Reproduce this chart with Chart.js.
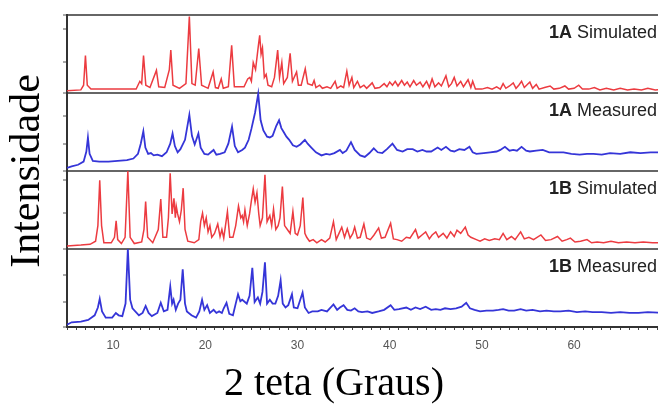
<!DOCTYPE html>
<html>
<head>
<meta charset="utf-8">
<script src="https://cdn.jsdelivr.net/npm/chart.js@4.4.1/dist/chart.umd.min.js"></script>
<style>
  body { margin: 0; background: #fff; overflow: hidden; }
  #wrap { width: 658px; height: 406px; }
</style>
</head>
<body>
<div id="wrap"><canvas id="xrd" width="658" height="406"></canvas></div>
<script>
// [2theta, relative intensity within its panel]
const simA = [
  [5.0,.03],[6.5,.04],[6.8,.1],[7.0,.48],[7.2,.1],[7.6,.05],[12.5,.05],[12.9,.15],[13.1,.12],[13.3,.48],[13.55,.1],
  [14.0,.07],[14.7,.29],[14.95,.08],[15.6,.07],[16.1,.3],[16.26,.55],[16.5,.1],[17.2,.06],[17.9,.12],[18.27,.98],
  [18.55,.12],[18.9,.1],[19.29,.57],[19.6,.1],[20.3,.06],[20.85,.27],[21.1,.07],[21.4,.06],[21.73,.18],[21.95,.06],
  [22.5,.08],[22.86,.61],[23.15,.08],[24.2,.08],[24.6,.18],[24.83,.2],[25.0,.15],[25.2,.39],[25.45,.3],[25.75,.6],
  [25.9,.74],[26.05,.5],[26.2,.58],[26.4,.2],[26.6,.24],[26.8,.1],[27.2,.08],[27.5,.2],[27.85,.55],[28.05,.2],
  [28.3,.39],[28.5,.12],[28.9,.2],[29.2,.51],[29.45,.15],[29.9,.27],[30.1,.1],[30.4,.1],[30.84,.31],[31.1,.12],
  [31.6,.1],[31.8,.16],[32.0,.07],[32.4,.1],[32.7,.06],[33.2,.08],[33.6,.06],[34.08,.15],[34.3,.06],[34.7,.09],
  [35.0,.07],[35.35,.28],[35.6,.1],[35.9,.2],[36.1,.07],[36.5,.15],[36.8,.07],[37.2,.1],[37.5,.06],[38.1,.13],
  [38.4,.06],[38.9,.07],[39.4,.12],[39.7,.08],[40.0,.14],[40.3,.1],[40.6,.15],[40.9,.09],[41.3,.16],[41.6,.1],
  [41.9,.14],[42.2,.08],[42.6,.16],[42.9,.1],[43.3,.14],[43.6,.08],[44.0,.15],[44.3,.07],[44.6,.18],[44.9,.08],
  [45.3,.13],[45.6,.09],[46.1,.22],[46.4,.08],[46.7,.12],[47.0,.2],[47.3,.09],[47.7,.15],[48.0,.08],[48.5,.17],
  [48.8,.07],[49.0,.15],[49.3,.05],[50.0,.05],[50.6,.07],[51.1,.05],[51.6,.08],[52.0,.05],[52.3,.12],[52.6,.06],
  [53.0,.09],[53.4,.13],[53.7,.06],[54.0,.1],[54.3,.15],[54.6,.07],[55.2,.14],[55.5,.06],[55.9,.11],[56.2,.05],
  [56.8,.07],[57.4,.09],[57.8,.05],[58.4,.06],[59.0,.09],[59.4,.05],[60.0,.06],[60.5,.1],[60.9,.05],[61.6,.05],
  [62.2,.07],[62.8,.04],[63.5,.06],[64.3,.04],[65.0,.06],[65.8,.04],[66.5,.05],[67.3,.04],[68.0,.06],[68.8,.04],[70,.05]
];
const measA = [
  [5.0,.04],[5.5,.06],[6.2,.08],[6.8,.12],[7.1,.25],[7.27,.43],[7.45,.22],[7.8,.13],[8.5,.12],[9.5,.12],[10.5,.13],
  [11.5,.14],[12.2,.16],[12.7,.22],[13.0,.35],[13.28,.51],[13.5,.3],[13.8,.22],[14.1,.23],[14.4,.2],[14.8,.21],
  [15.3,.19],[15.8,.24],[16.2,.35],[16.45,.48],[16.7,.32],[17.0,.24],[17.3,.28],[17.8,.4],[18.27,.72],[18.55,.45],
  [18.85,.34],[19.25,.48],[19.5,.3],[19.9,.22],[20.3,.21],[20.6,.24],[20.9,.27],[21.2,.21],[21.6,.22],[22.1,.24],
  [22.5,.35],[22.9,.57],[23.2,.32],[23.55,.24],[24.0,.27],[24.3,.3],[24.7,.4],[25.0,.54],[25.4,.75],[25.74,.99],
  [26.0,.65],[26.3,.52],[26.7,.44],[27.0,.43],[27.3,.45],[27.7,.58],[28.0,.65],[28.25,.55],[28.5,.5],[28.8,.44],
  [29.1,.4],[29.5,.33],[29.9,.31],[30.3,.34],[30.8,.4],[31.1,.35],[31.5,.3],[32.0,.24],[32.6,.2],[33.1,.22],
  [33.5,.21],[34.0,.23],[34.6,.27],[34.9,.23],[35.3,.26],[35.8,.37],[36.2,.27],[36.8,.2],[37.3,.18],[37.8,.23],
  [38.27,.29],[38.7,.24],[39.2,.23],[39.7,.28],[40.3,.35],[40.8,.27],[41.4,.25],[41.9,.28],[42.5,.28],[43.0,.25],
  [43.55,.27],[44.0,.25],[44.5,.25],[45.2,.3],[45.6,.27],[46.1,.31],[46.6,.26],[47.0,.25],[47.55,.28],[48.1,.27],
  [48.65,.31],[49.0,.24],[49.4,.22],[50.2,.23],[50.9,.24],[51.6,.25],[52.0,.27],[52.5,.31],[53.0,.26],[53.4,.27],
  [53.8,.26],[54.3,.31],[54.8,.26],[55.2,.25],[55.9,.26],[56.6,.27],[57.3,.24],[58.0,.24],[58.85,.24],[59.7,.22],
  [60.6,.21],[61.4,.22],[62.1,.22],[63.0,.21],[63.9,.23],[65.0,.22],[66.1,.24],[67.2,.23],[68.3,.24],[70,.24]
];
const simB = [
  [5.0,.04],[6.5,.05],[7.5,.06],[8.1,.1],[8.35,.3],[8.55,.88],[8.75,.3],[9.0,.08],[9.8,.08],[10.15,.15],[10.33,.36],
  [10.5,.12],[10.9,.07],[11.3,.15],[11.6,1.0],[11.85,.15],[12.3,.07],[13.1,.09],[13.35,.25],[13.53,.61],[13.75,.15],
  [14.3,.08],[14.9,.25],[15.17,.64],[15.4,.15],[15.8,.15],[16.0,.4],[16.19,.97],[16.4,.45],[16.6,.65],[16.75,.4],
  [16.85,.55],[17.0,.45],[17.2,.35],[17.4,.5],[17.6,.78],[17.8,.25],[18.1,.1],[18.8,.08],[19.3,.12],[19.5,.35],
  [19.7,.46],[19.9,.3],[20.1,.4],[20.3,.22],[20.5,.3],[20.7,.15],[21.0,.2],[21.35,.32],[21.6,.16],[21.8,.25],
  [22.0,.14],[22.4,.48],[22.65,.15],[23.0,.15],[23.3,.3],[23.6,.55],[23.85,.4],[24.0,.43],[24.15,.35],[24.3,.5],
  [24.55,.3],[24.8,.45],[25.0,.62],[25.2,.77],[25.4,.6],[25.6,.72],[25.8,.45],[25.95,.3],[26.2,.4],[26.47,.95],
  [26.7,.35],[27.0,.43],[27.2,.3],[27.4,.51],[27.65,.25],[27.9,.3],[28.1,.4],[28.36,.8],[28.6,.3],[28.9,.25],
  [29.2,.2],[29.5,.48],[29.75,.2],[30.0,.18],[30.3,.3],[30.58,.66],[30.8,.2],[31.0,.15],[31.3,.1],[31.7,.12],
  [32.1,.08],[32.6,.12],[33.0,.09],[33.5,.14],[33.9,.35],[34.2,.12],[34.5,.2],[34.8,.28],[35.1,.15],[35.4,.26],
  [35.7,.14],[36.0,.2],[36.2,.28],[36.5,.14],[36.8,.15],[37.2,.32],[37.5,.14],[37.9,.12],[38.3,.18],[38.8,.27],
  [39.1,.14],[39.5,.15],[40.1,.33],[40.4,.13],[40.8,.12],[41.3,.1],[41.8,.15],[42.2,.14],[42.8,.25],[43.1,.14],
  [43.5,.18],[43.9,.22],[44.3,.13],[44.6,.18],[45.0,.22],[45.3,.15],[45.8,.2],[46.2,.14],[46.6,.22],[47.0,.16],
  [47.3,.24],[47.7,.2],[48.2,.28],[48.5,.18],[48.8,.15],[49.4,.12],[49.8,.1],[50.3,.13],[50.8,.11],[51.4,.13],
  [51.9,.12],[52.3,.2],[52.7,.12],[53.2,.16],[53.6,.12],[54.2,.22],[54.6,.13],[55.1,.15],[55.6,.12],[56.4,.18],
  [56.9,.11],[57.5,.12],[58.2,.16],[58.7,.1],[59.2,.12],[59.6,.14],[60.1,.09],[60.7,.1],[61.4,.12],[61.9,.08],
  [62.5,.09],[63.2,.08],[64.0,.1],[64.8,.08],[65.7,.09],[66.6,.08],[67.5,.09],[68.5,.08],[70,.08]
];
const measB = [
  [5.0,.03],[5.5,.06],[6.5,.07],[7.3,.09],[8.0,.15],[8.35,.25],[8.55,.36],[8.8,.2],[9.2,.12],[9.9,.12],[10.3,.18],
  [10.6,.15],[11.0,.14],[11.35,.3],[11.6,1.0],[11.85,.35],[12.1,.24],[12.8,.15],[13.2,.18],[13.53,.27],[13.85,.18],
  [14.2,.14],[14.8,.18],[15.17,.31],[15.5,.2],[15.9,.22],[16.2,.52],[16.4,.3],[16.56,.35],[16.8,.22],[17.05,.3],
  [17.3,.35],[17.55,.74],[17.8,.3],[18.0,.2],[18.5,.15],[19.0,.12],[19.35,.2],[19.65,.35],[19.9,.22],[20.2,.28],
  [20.5,.18],[20.9,.22],[21.2,.18],[21.5,.2],[21.8,.18],[22.0,.24],[22.3,.31],[22.6,.17],[23.0,.15],[23.3,.3],
  [23.55,.42],[23.8,.33],[24.0,.35],[24.2,.33],[24.5,.3],[24.8,.4],[25.1,.76],[25.35,.32],[25.7,.38],[25.95,.3],
  [26.2,.45],[26.47,.83],[26.7,.3],[27.0,.35],[27.3,.3],[27.6,.3],[27.9,.4],[28.17,.6],[28.4,.3],[28.7,.25],
  [29.0,.28],[29.4,.42],[29.6,.25],[30.0,.24],[30.3,.35],[30.55,.44],[30.8,.25],[31.2,.18],[31.6,.2],[32.2,.2],
  [32.6,.22],[33.2,.2],[33.9,.29],[34.3,.22],[34.6,.25],[35.0,.28],[35.4,.22],[35.8,.21],[36.2,.24],[36.6,.2],
  [37.0,.19],[37.6,.2],[38.1,.18],[38.8,.2],[39.4,.22],[40.1,.28],[40.5,.22],[41.0,.23],[41.8,.25],[42.3,.22],
  [42.8,.25],[43.3,.23],[43.9,.26],[44.5,.22],[45.0,.23],[45.5,.22],[46.0,.24],[46.6,.23],[47.2,.24],[47.8,.26],
  [48.3,.31],[48.7,.24],[49.2,.22],[49.8,.2],[50.5,.21],[51.2,.21],[51.8,.22],[52.3,.23],[52.9,.21],[53.5,.21],
  [54.2,.23],[54.8,.21],[55.5,.22],[56.3,.2],[57.0,.21],[57.8,.2],[58.5,.2],[59.4,.21],[60.3,.19],[61.2,.2],
  [62.0,.19],[63.0,.19],[64.0,.18],[65.0,.19],[66.0,.18],[67.0,.18],[68.0,.19],[70,.18]
];

const panelNames = [["1A", " Simulated"], ["1A", " Measured"], ["1B", " Simulated"], ["1B", " Measured"]];
const panelData = [simA, measA, simB, measB];
const panelColors = ["#ec3b40", "#3535d8", "#ec3b40", "#3535d8"];
const yTicks = [0, .32, .67, 1, 1.46, 1.88, 2, 2.35, 2.71, 3, 3.4, 3.82, 4];
const xLabels = [10, 20, 30, 40, 50, 60];

const datasets = panelData.map((pts, i) => {
  const offset = 3 - i;
  return {
    label: panelNames[i].join(""),
    data: pts.map(([x, v]) => ({ x: x, y: v + offset })),
    borderColor: panelColors[i],
    borderWidth: i % 2 ? 1.8 : 1.5,
    pointRadius: 0,
    tension: 0,
    fill: false,
  };
});

const isSep = (v) => Math.abs(v - Math.round(v)) < 1e-6;

const labelsPlugin = {
  id: "panelLabels",
  afterDatasetsDraw(chart) {
    const ctx = chart.ctx;
    const y = chart.scales.y;
    const right = 657;
    ctx.save();
    ctx.fillStyle = "#222";
    ctx.textBaseline = "alphabetic";
    ctx.textAlign = "left";
    panelNames.forEach(([bold, rest], i) => {
      const base = y.getPixelForValue(4 - i) + 23;
      ctx.font = "18px 'Liberation Sans', Arial, sans-serif";
      const w2 = ctx.measureText(rest).width;
      ctx.fillText(rest, right - w2, base);
      ctx.font = "bold 18px 'Liberation Sans', Arial, sans-serif";
      const w1 = ctx.measureText(bold).width;
      ctx.fillText(bold, right - w2 - w1, base);
    });
    // x axis title
    ctx.font = "40px 'Liberation Serif', 'Times New Roman', serif";
    ctx.fillStyle = "#000";
    ctx.textAlign = "center";
    ctx.textBaseline = "middle";
    ctx.fillText("2 teta (Graus)", 334, 384);
    ctx.restore();
  },
};

new Chart(document.getElementById("xrd"), {
  type: "line",
  data: { datasets },
  plugins: [labelsPlugin],
  options: {
    responsive: false,
    animation: false,
    layout: { padding: { top: 15, left: 0, right: -6, bottom: 0 } },
    plugins: { legend: { display: false }, tooltip: { enabled: false } },
    scales: {
      x: {
        type: "linear",
        min: 5,
        max: 69.1,
        afterFit: (s) => { s.height = 79; s.paddingRight = 0; },
        border: { color: "#333", width: 2 },
        grid: { drawOnChartArea: false, drawTicks: true, tickLength: 3, tickColor: "#444" },
        ticks: {
          stepSize: 1,
          autoSkip: false,
          maxRotation: 0,
          includeBounds: false,
          padding: 8,
          color: "#555",
          font: { family: "'Liberation Sans', Arial, sans-serif", size: 12 },
          callback: (v) => (xLabels.includes(v) ? String(v) : ""),
        },
      },
      y: {
        type: "linear",
        min: 0,
        max: 4,
        afterFit: (s) => { s.width = 67; },
        afterBuildTicks: (s) => { s.ticks = yTicks.map((v) => ({ value: v })); },
        border: { color: "#333", width: 2 },
        grid: {
          drawOnChartArea: true,
          tickLength: 4,
          color: (c) => (isSep(c.tick.value) ? "#666" : "rgba(0,0,0,0)"),
          lineWidth: (c) => (isSep(c.tick.value) ? 2 : 0),
          tickColor: "#555",
          tickWidth: 1,
        },
        ticks: { callback: () => "", padding: 0 },
        title: {
          display: true,
          text: "Intensidade",
          color: "#000",
          padding: { top: 3, bottom: 0 },
          font: { family: "'Liberation Serif', 'Times New Roman', serif", size: 42, weight: "normal" },
        },
      },
    },
  },
});
</script>
</body>
</html>
